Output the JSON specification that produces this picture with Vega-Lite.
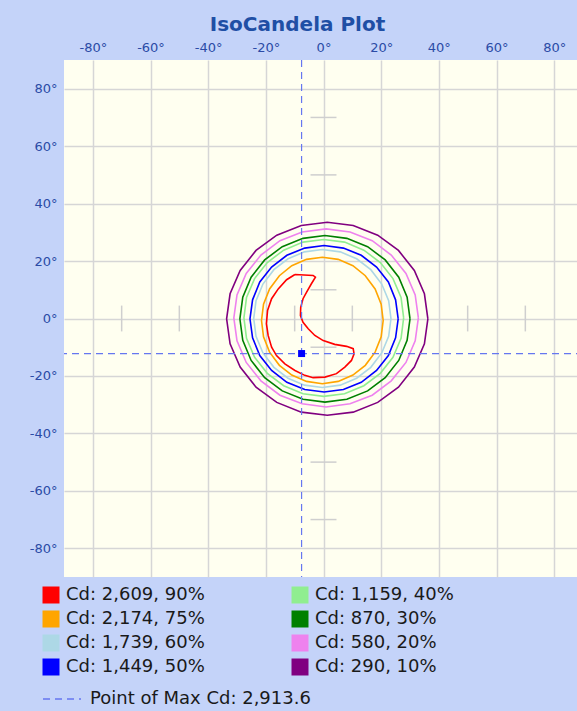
{
  "$schema": "https://vega.github.io/schema/vega-lite/v6.json",
  "width": 519,
  "height": 517,
  "autosize": "none",
  "padding": {"left": 64, "top": 60, "right": 0, "bottom": 134},
  "background": "#c4d3f9",
  "title": {
    "text": "IsoCandela Plot",
    "font": "DejaVu Sans",
    "fontSize": 20,
    "fontWeight": "bold",
    "color": "#1f4fa5",
    "anchor": "middle",
    "dx": -26,
    "offset": 6
  },
  "datasets": {
    "levels": [
      {"p": 90, "label": "Cd: 2,609, 90%"},
      {"p": 75, "label": "Cd: 2,174, 75%"},
      {"p": 60, "label": "Cd: 1,739, 60%"},
      {"p": 50, "label": "Cd: 1,449, 50%"},
      {"p": 40, "label": "Cd: 1,159, 40%"},
      {"p": 30, "label": "Cd: 870, 30%"},
      {"p": 20, "label": "Cd: 580, 20%"},
      {"p": 10, "label": "Cd: 290, 10%"}
    ],
    "ticks": [{"t": -70}, {"t": -50}, {"t": -10}, {"t": 10}, {"t": 50}, {"t": 70}],
    "maxpt": [{"mx": -7.6, "my": -12.2, "name": "Point of Max Cd: 2,913.6"}],
    "contours": [
      {"p":10,"i":0,"x":36.2,"y":-0.1},{"p":10,"i":1,"x":35.0,"y":8.6},{"p":10,"i":2,"x":31.5,"y":16.7},{"p":10,"i":3,"x":26.0,"y":23.7},{"p":10,"i":4,"x":18.8,"y":29.0},{"p":10,"i":5,"x":10.3,"y":32.4},{"p":10,"i":6,"x":1.3,"y":33.5},{"p":10,"i":7,"x":-7.7,"y":32.4},{"p":10,"i":8,"x":-16.2,"y":29.0},{"p":10,"i":9,"x":-23.4,"y":23.7},{"p":10,"i":10,"x":-28.9,"y":16.7},{"p":10,"i":11,"x":-32.4,"y":8.6},{"p":10,"i":12,"x":-33.6,"y":-0.1},{"p":10,"i":13,"x":-32.4,"y":-8.8},{"p":10,"i":14,"x":-28.9,"y":-16.9},{"p":10,"i":15,"x":-23.4,"y":-23.9},{"p":10,"i":16,"x":-16.2,"y":-29.2},{"p":10,"i":17,"x":-7.7,"y":-32.6},{"p":10,"i":18,"x":1.3,"y":-33.7},{"p":10,"i":19,"x":10.3,"y":-32.6},{"p":10,"i":20,"x":18.8,"y":-29.2},{"p":10,"i":21,"x":26.0,"y":-23.9},{"p":10,"i":22,"x":31.5,"y":-16.9},{"p":10,"i":23,"x":35.0,"y":-8.8},{"p":10,"i":24,"x":36.2,"y":-0.1},
      {"p":20,"i":0,"x":32.9,"y":0.2},{"p":20,"i":1,"x":31.8,"y":8.2},{"p":20,"i":2,"x":28.6,"y":15.7},{"p":20,"i":3,"x":23.5,"y":22.1},{"p":20,"i":4,"x":16.9,"y":27.1},{"p":20,"i":5,"x":9.2,"y":30.1},{"p":20,"i":6,"x":0.9,"y":31.2},{"p":20,"i":7,"x":-7.4,"y":30.1},{"p":20,"i":8,"x":-15.1,"y":27.1},{"p":20,"i":9,"x":-21.7,"y":22.1},{"p":20,"i":10,"x":-26.8,"y":15.7},{"p":20,"i":11,"x":-30.0,"y":8.2},{"p":20,"i":12,"x":-31.1,"y":0.2},{"p":20,"i":13,"x":-30.0,"y":-7.8},{"p":20,"i":14,"x":-26.8,"y":-15.3},{"p":20,"i":15,"x":-21.7,"y":-21.7},{"p":20,"i":16,"x":-15.1,"y":-26.7},{"p":20,"i":17,"x":-7.4,"y":-29.7},{"p":20,"i":18,"x":0.9,"y":-30.8},{"p":20,"i":19,"x":9.2,"y":-29.7},{"p":20,"i":20,"x":16.9,"y":-26.7},{"p":20,"i":21,"x":23.5,"y":-21.7},{"p":20,"i":22,"x":28.6,"y":-15.3},{"p":20,"i":23,"x":31.8,"y":-7.8},{"p":20,"i":24,"x":32.9,"y":0.2},
      {"p":30,"i":0,"x":30.0,"y":-0.1},{"p":30,"i":1,"x":29.0,"y":7.4},{"p":30,"i":2,"x":26.1,"y":14.4},{"p":30,"i":3,"x":21.4,"y":20.4},{"p":30,"i":4,"x":15.3,"y":25.0},{"p":30,"i":5,"x":8.1,"y":27.9},{"p":30,"i":6,"x":0.5,"y":28.9},{"p":30,"i":7,"x":-7.1,"y":27.9},{"p":30,"i":8,"x":-14.3,"y":25.0},{"p":30,"i":9,"x":-20.4,"y":20.4},{"p":30,"i":10,"x":-25.1,"y":14.4},{"p":30,"i":11,"x":-28.0,"y":7.4},{"p":30,"i":12,"x":-29.0,"y":-0.1},{"p":30,"i":13,"x":-28.0,"y":-7.6},{"p":30,"i":14,"x":-25.1,"y":-14.6},{"p":30,"i":15,"x":-20.4,"y":-20.6},{"p":30,"i":16,"x":-14.3,"y":-25.2},{"p":30,"i":17,"x":-7.1,"y":-28.1},{"p":30,"i":18,"x":0.5,"y":-29.1},{"p":30,"i":19,"x":8.1,"y":-28.1},{"p":30,"i":20,"x":15.3,"y":-25.2},{"p":30,"i":21,"x":21.4,"y":-20.6},{"p":30,"i":22,"x":26.1,"y":-14.6},{"p":30,"i":23,"x":29.0,"y":-7.6},{"p":30,"i":24,"x":30.0,"y":-0.1},
      {"p":40,"i":0,"x":27.8,"y":0.2},{"p":40,"i":1,"x":26.9,"y":7.3},{"p":40,"i":2,"x":24.1,"y":13.9},{"p":40,"i":3,"x":19.7,"y":19.5},{"p":40,"i":4,"x":14.0,"y":23.8},{"p":40,"i":5,"x":7.3,"y":26.6},{"p":40,"i":6,"x":0.1,"y":27.5},{"p":40,"i":7,"x":-7.1,"y":26.6},{"p":40,"i":8,"x":-13.8,"y":23.8},{"p":40,"i":9,"x":-19.5,"y":19.5},{"p":40,"i":10,"x":-23.9,"y":13.9},{"p":40,"i":11,"x":-26.7,"y":7.3},{"p":40,"i":12,"x":-27.6,"y":0.2},{"p":40,"i":13,"x":-26.7,"y":-6.9},{"p":40,"i":14,"x":-23.9,"y":-13.5},{"p":40,"i":15,"x":-19.5,"y":-19.1},{"p":40,"i":16,"x":-13.8,"y":-23.4},{"p":40,"i":17,"x":-7.1,"y":-26.2},{"p":40,"i":18,"x":0.1,"y":-27.1},{"p":40,"i":19,"x":7.3,"y":-26.2},{"p":40,"i":20,"x":14.0,"y":-23.4},{"p":40,"i":21,"x":19.7,"y":-19.1},{"p":40,"i":22,"x":24.1,"y":-13.5},{"p":40,"i":23,"x":26.9,"y":-6.9},{"p":40,"i":24,"x":27.8,"y":0.2},
      {"p":50,"i":0,"x":25.9,"y":-0.1},{"p":50,"i":1,"x":25.0,"y":6.5},{"p":50,"i":2,"x":22.5,"y":12.7},{"p":50,"i":3,"x":18.4,"y":17.9},{"p":50,"i":4,"x":13.1,"y":22.0},{"p":50,"i":5,"x":6.9,"y":24.5},{"p":50,"i":6,"x":0.2,"y":25.4},{"p":50,"i":7,"x":-6.5,"y":24.5},{"p":50,"i":8,"x":-12.7,"y":22.0},{"p":50,"i":9,"x":-18.0,"y":17.9},{"p":50,"i":10,"x":-22.1,"y":12.7},{"p":50,"i":11,"x":-24.6,"y":6.5},{"p":50,"i":12,"x":-25.5,"y":-0.1},{"p":50,"i":13,"x":-24.6,"y":-6.7},{"p":50,"i":14,"x":-22.1,"y":-12.9},{"p":50,"i":15,"x":-18.0,"y":-18.1},{"p":50,"i":16,"x":-12.7,"y":-22.2},{"p":50,"i":17,"x":-6.5,"y":-24.7},{"p":50,"i":18,"x":0.2,"y":-25.6},{"p":50,"i":19,"x":6.9,"y":-24.7},{"p":50,"i":20,"x":13.1,"y":-22.2},{"p":50,"i":21,"x":18.4,"y":-18.1},{"p":50,"i":22,"x":22.5,"y":-12.9},{"p":50,"i":23,"x":25.0,"y":-6.7},{"p":50,"i":24,"x":25.9,"y":-0.1},
      {"p":60,"i":0,"x":23.4,"y":0.0},{"p":60,"i":1,"x":22.6,"y":6.2},{"p":60,"i":2,"x":20.2,"y":12.0},{"p":60,"i":3,"x":16.4,"y":17.0},{"p":60,"i":4,"x":11.5,"y":20.8},{"p":60,"i":5,"x":5.8,"y":23.2},{"p":60,"i":6,"x":-0.4,"y":24.0},{"p":60,"i":7,"x":-6.6,"y":23.2},{"p":60,"i":8,"x":-12.3,"y":20.8},{"p":60,"i":9,"x":-17.2,"y":17.0},{"p":60,"i":10,"x":-21.0,"y":12.0},{"p":60,"i":11,"x":-23.4,"y":6.2},{"p":60,"i":12,"x":-24.2,"y":0.0},{"p":60,"i":13,"x":-23.4,"y":-6.2},{"p":60,"i":14,"x":-21.0,"y":-12.0},{"p":60,"i":15,"x":-17.2,"y":-17.0},{"p":60,"i":16,"x":-12.3,"y":-20.8},{"p":60,"i":17,"x":-6.6,"y":-23.2},{"p":60,"i":18,"x":-0.4,"y":-24.0},{"p":60,"i":19,"x":5.8,"y":-23.2},{"p":60,"i":20,"x":11.5,"y":-20.8},{"p":60,"i":21,"x":16.4,"y":-17.0},{"p":60,"i":22,"x":20.2,"y":-12.0},{"p":60,"i":23,"x":22.6,"y":-6.2},{"p":60,"i":24,"x":23.4,"y":0.0},
      {"p":75,"i":0,"x":20.7,"y":-0.7},{"p":75,"i":1,"x":20.0,"y":5.0},{"p":75,"i":2,"x":17.9,"y":10.3},{"p":75,"i":3,"x":14.5,"y":14.9},{"p":75,"i":4,"x":10.2,"y":18.4},{"p":75,"i":5,"x":5.1,"y":20.6},{"p":75,"i":6,"x":-0.4,"y":21.3},{"p":75,"i":7,"x":-5.9,"y":20.6},{"p":75,"i":8,"x":-11.0,"y":18.4},{"p":75,"i":9,"x":-15.3,"y":14.9},{"p":75,"i":10,"x":-18.7,"y":10.3},{"p":75,"i":11,"x":-20.8,"y":5.0},{"p":75,"i":12,"x":-21.5,"y":-0.7},{"p":75,"i":13,"x":-20.8,"y":-6.4},{"p":75,"i":14,"x":-18.7,"y":-11.7},{"p":75,"i":15,"x":-15.3,"y":-16.3},{"p":75,"i":16,"x":-11.0,"y":-19.7},{"p":75,"i":17,"x":-5.9,"y":-21.9},{"p":75,"i":18,"x":-0.4,"y":-22.7},{"p":75,"i":19,"x":5.1,"y":-21.9},{"p":75,"i":20,"x":10.2,"y":-19.7},{"p":75,"i":21,"x":14.5,"y":-16.3},{"p":75,"i":22,"x":17.9,"y":-11.7},{"p":75,"i":23,"x":20.0,"y":-6.4},{"p":75,"i":24,"x":20.7,"y":-0.7},
      {"p":90,"i":0,"x":-9.9,"y":15.3},{"p":90,"i":1,"x":-3.6,"y":15.0},{"p":90,"i":2,"x":-2.8,"y":14.4},{"p":90,"i":3,"x":-4.2,"y":12.1},{"p":90,"i":4,"x":-5.9,"y":9.1},{"p":90,"i":5,"x":-7.1,"y":6.9},{"p":90,"i":6,"x":-7.9,"y":3.9},{"p":90,"i":7,"x":-8.0,"y":1.0},{"p":90,"i":8,"x":-7.1,"y":-1.3},{"p":90,"i":9,"x":-5.3,"y":-3.6},{"p":90,"i":10,"x":-3.0,"y":-5.9},{"p":90,"i":11,"x":-0.1,"y":-7.7},{"p":90,"i":12,"x":3.9,"y":-9.0},{"p":90,"i":13,"x":8.0,"y":-9.7},{"p":90,"i":14,"x":10.3,"y":-10.5},{"p":90,"i":15,"x":10.6,"y":-12.3},{"p":90,"i":16,"x":9.7,"y":-14.6},{"p":90,"i":17,"x":7.4,"y":-16.9},{"p":90,"i":18,"x":4.5,"y":-19.2},{"p":90,"i":19,"x":0.5,"y":-20.4},{"p":90,"i":20,"x":-3.6,"y":-20.6},{"p":90,"i":21,"x":-6.5,"y":-19.8},{"p":90,"i":22,"x":-9.9,"y":-18.1},{"p":90,"i":23,"x":-13.4,"y":-15.8},{"p":90,"i":24,"x":-16.3,"y":-12.9},{"p":90,"i":25,"x":-18.0,"y":-10.0},{"p":90,"i":26,"x":-19.2,"y":-5.9},{"p":90,"i":27,"x":-19.8,"y":-1.8},{"p":90,"i":28,"x":-19.4,"y":2.8},{"p":90,"i":29,"x":-18.0,"y":6.9},{"p":90,"i":30,"x":-15.7,"y":10.3},{"p":90,"i":31,"x":-12.8,"y":13.5},{"p":90,"i":32,"x":-9.9,"y":15.3}
    ]
  },
  "layer": [
    {
      "data": {"name": "ticks"},
      "mark": {"type": "rule", "color": "#cfcfcf", "strokeWidth": 1.5},
      "encoding": {
        "y": {"field": "t", "type": "quantitative", "scale": {"domain": [-90, 90], "nice": false, "zero": false},
          "axis": {"orient": "left", "values": [-80, -60, -40, -20, 0, 20, 40, 60, 80], "labelExpr": "datum.value + '°'", "title": null, "domain": false, "ticks": false, "grid": true, "labelPadding": 7}},
        "x": {"datum": -4.5, "type": "quantitative", "scale": {"domain": [-90, 90], "nice": false, "zero": false},
          "axis": {"orient": "top", "values": [-80, -60, -40, -20, 0, 20, 40, 60, 80], "labelExpr": "datum.value + '°'", "title": null, "domain": false, "ticks": false, "grid": true, "labelPadding": 6, "labelDx": 5}},
        "x2": {"datum": 4.5}
      }
    },
    {
      "data": {"name": "ticks"},
      "mark": {"type": "rule", "color": "#cfcfcf", "strokeWidth": 1.5},
      "encoding": {
        "x": {"field": "t", "type": "quantitative"},
        "y": {"datum": -4.5, "type": "quantitative"},
        "y2": {"datum": 4.5}
      }
    },
    {
      "data": {"name": "contours"},
      "transform": [{"lookup": "p", "from": {"data": {"name": "levels"}, "key": "p", "fields": ["label"]}}],
      "mark": {"type": "line", "strokeWidth": 1.6, "clip": true},
      "encoding": {
        "x": {"field": "x", "type": "quantitative"},
        "y": {"field": "y", "type": "quantitative"},
        "order": {"field": "i", "type": "quantitative"},
        "color": {
          "field": "label", "type": "nominal",
          "scale": {
            "domain": ["Cd: 2,609, 90%", "Cd: 2,174, 75%", "Cd: 1,739, 60%", "Cd: 1,449, 50%", "Cd: 1,159, 40%", "Cd: 870, 30%", "Cd: 580, 20%", "Cd: 290, 10%"],
            "range": ["#ff0000", "#ffa500", "#add8e6", "#0000ff", "#90ee90", "#008000", "#ee82ee", "#800080"]
          },
          "legend": {
            "orient": "none", "legendX": -22, "legendY": 526, "columns": 2, "title": null,
            "symbolType": "square", "symbolSize": 289, "symbolStrokeWidth": 0,
            "labelFont": "DejaVu Sans", "labelFontSize": 18, "labelColor": "#1a1a1a", "labelOffset": 6,
            "rowPadding": 6, "columnPadding": 86, "padding": 0, "labelLimit": 300,
            "encode": {"symbols": {"update": {"fill": {"scale": "color", "field": "value"}, "opacity": {"value": 1}}}}
          }
        }
      }
    },
    {
      "data": {"name": "maxpt"},
      "mark": {"type": "rule", "strokeWidth": 1.2, "opacity": 1},
      "encoding": {
        "x": {"field": "mx", "type": "quantitative"},
        "stroke": {"field": "name", "type": "nominal", "scale": {"range": ["#6677f0"]},
          "legend": {"orient": "none", "legendX": -22, "legendY": 619, "title": null, "symbolType": "stroke", "symbolSize": 1444, "symbolStrokeWidth": 1.5,
            "labelFont": "DejaVu Sans", "labelFontSize": 18, "labelColor": "#1a1a1a", "labelOffset": 8, "padding": 0, "labelLimit": 400}},
        "strokeDash": {"field": "name", "type": "nominal", "scale": {"range": [[7, 5]]},
          "legend": {"orient": "none", "legendX": -22, "legendY": 619, "title": null, "symbolType": "stroke", "symbolSize": 1444, "symbolStrokeWidth": 1.5,
            "labelFont": "DejaVu Sans", "labelFontSize": 18, "labelColor": "#1a1a1a", "labelOffset": 8, "padding": 0, "labelLimit": 400}}
      }
    },
    {
      "data": {"name": "maxpt"},
      "mark": {"type": "rule", "strokeWidth": 1.2, "opacity": 1},
      "encoding": {
        "y": {"field": "my", "type": "quantitative"},
        "stroke": {"field": "name", "type": "nominal"},
        "strokeDash": {"field": "name", "type": "nominal"}
      }
    },
    {
      "data": {"name": "maxpt"},
      "mark": {"type": "square", "color": "#0000ff", "filled": true, "opacity": 1, "size": 49},
      "encoding": {
        "x": {"field": "mx", "type": "quantitative"},
        "y": {"field": "my", "type": "quantitative"}
      }
    }
  ],
  "config": {
    "view": {"fill": "#fffff0", "stroke": null},
    "axis": {
      "labelFont": "DejaVu Sans", "labelFontSize": 13, "labelColor": "#2b4ba6",
      "gridColor": "#d6d6d6", "gridWidth": 1.5, "gridOpacity": 1
    }
  }
}
